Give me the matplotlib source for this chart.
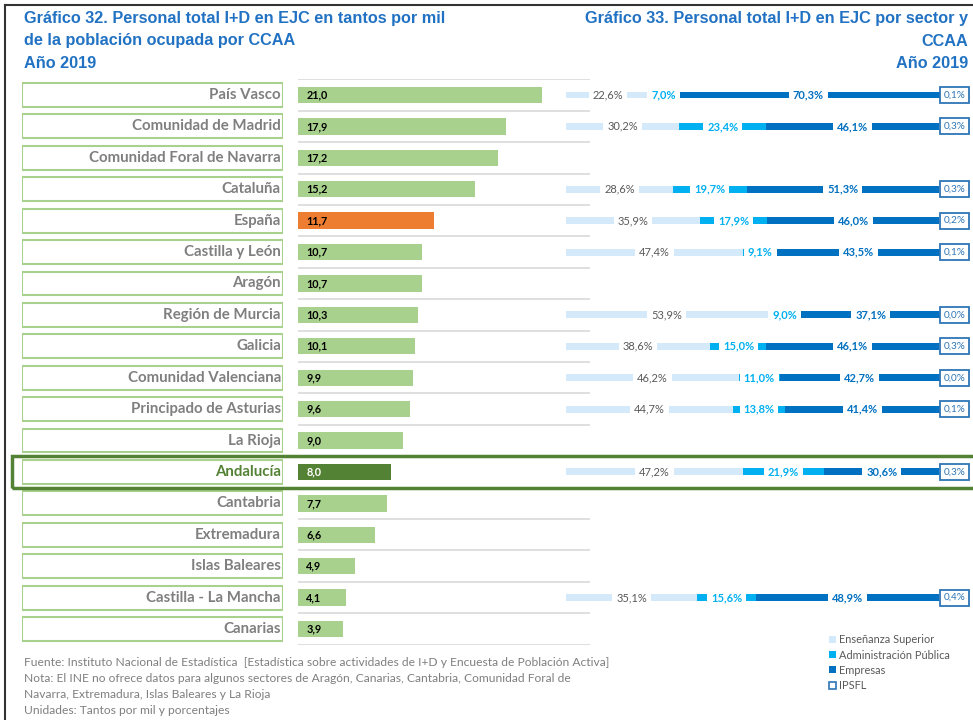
import numpy as np
import matplotlib
matplotlib.use("Agg")
import matplotlib.pyplot as plt
from matplotlib.patches import Rectangle, Patch
from matplotlib.lines import Line2D

# ---------------- data ----------------
regions = ["País Vasco", "Comunidad de Madrid", "Comunidad Foral de Navarra", "Cataluña",
           "España", "Castilla y León", "Aragón", "Región de Murcia", "Galicia",
           "Comunidad Valenciana", "Principado de Asturias", "La Rioja", "Andalucía",
           "Cantabria", "Extremadura", "Islas Baleares", "Castilla - La Mancha", "Canarias"]
per_mil = [21.0, 17.9, 17.2, 15.2, 11.7, 10.7, 10.7, 10.3, 10.1, 9.9, 9.6, 9.0, 8.0,
           7.7, 6.6, 4.9, 4.1, 3.9]
nan = np.nan
ens_sup = [22.6, 30.2, nan, 28.6, 35.9, 47.4, nan, 53.9, 38.6, 46.2, 44.7, nan, 47.2,
           nan, nan, nan, 35.1, nan]
adm_pub = [7.0, 23.4, nan, 19.7, 17.9, 9.1, nan, 9.0, 15.0, 11.0, 13.8, nan, 21.9,
           nan, nan, nan, 15.6, nan]
empresas = [70.3, 46.1, nan, 51.3, 46.0, 43.5, nan, 37.1, 46.1, 42.7, 41.4, nan, 30.6,
            nan, nan, nan, 48.9, nan]
ipsfl = [0.1, 0.3, nan, 0.3, 0.2, 0.1, nan, 0.0, 0.3, 0.0, 0.1, nan, 0.3,
         nan, nan, nan, 0.4, nan]
sector_names = ["Enseñanza Superior", "Administración Pública", "Empresas", "IPSFL"]

title_left = ["Gráfico 32. Personal total I+D en EJC en tantos por mil",
              "de la población ocupada por CCAA", "Año 2019"]
title_right = ["Gráfico 33. Personal total I+D en EJC por sector y", "CCAA", "Año 2019"]
notes = ["Fuente: Instituto Nacional de Estadística  [Estadística sobre actividades de I+D y Encuesta de Población Activa]",
         "Nota: El INE no ofrece datos para algunos sectores de Aragón, Canarias, Cantabria, Comunidad Foral de",
         "Navarra, Extremadura, Islas Baleares y La Rioja",
         "Unidades: Tantos por mil y porcentajes"]

# ---------------- style ----------------
C_GREEN = "#A9D18E"
C_DKGREEN = "#548235"
C_ORANGE = "#ED7D31"
C_LIGHT = "#D4EAFA"
C_MED = "#00B0F0"
C_DARK = "#0070C0"
C_BOX = "#2E75B6"
C_TITLE = "#2272C3"
C_GRAY = "#7F7F7F"
C_GRID = "#D9D9D9"
SANS = ["Lato", "DejaVu Sans"]
TITLEF = ["Liberation Sans", "DejaVu Sans"]

W, H = 973, 720
fig = plt.figure(figsize=(W / 100, H / 100), dpi=100)
fig.patch.set_facecolor("white")


def rect(x0, x1, y0, y1):
    return [x0 / W, 1 - y1 / H, (x1 - x0) / W, (y1 - y0) / H]


Y0, Y1 = 79.3, 644.7
n = len(regions)
y = np.arange(n)

# ---- label boxes ----
axl = fig.add_axes(rect(22, 283, Y0, Y1))
axl.barh(y, [1] * n, height=0.76, color="white", edgecolor=C_GREEN, linewidth=1.5)
for i, r in enumerate(regions):
    axl.text(0.992, i, r, ha="right", va="center", fontsize=10.8, fontweight="bold",
             family=SANS, color=C_DKGREEN if r == "Andalucía" else C_GRAY)
axl.set_xlim(0, 1)
axl.set_ylim(n - 0.5, -0.5)
axl.axis("off")

# ---- per-mil bars ----
axb = fig.add_axes(rect(298, 590, Y0, Y1))
cols = []
for r in regions:
    if r == "España":
        cols.append(C_ORANGE)
    elif r == "Andalucía":
        cols.append(C_DKGREEN)
    else:
        cols.append(C_GREEN)
axb.hlines(np.arange(-0.5, n, 1.0), 0, 1, transform=axb.get_yaxis_transform(),
           color=C_GRID, linewidth=1.2, zorder=0)
axb.barh(y, per_mil, height=0.52, color=cols, zorder=2)
for i, v in enumerate(per_mil):
    axb.text(0.7, i, f"{v:.1f}".replace(".", ","), ha="left", va="center",
             fontsize=7.8, fontweight="bold", family=SANS,
             color="white" if regions[i] == "Andalucía" else "black", zorder=3)
axb.set_xlim(0, (590 - 298) / 244 * 21.0)
axb.set_ylim(n - 0.5, -0.5)
axb.axis("off")

# ---- sector stacked bars ----
axr = fig.add_axes(rect(566, 969, Y0, Y1))
xmax = 100 * (969 - 566) / 374
e = np.array(ens_sup)
a = np.array(adm_pub)
m = np.array(empresas)
ok = ~np.isnan(e)
bh = 0.22
axr.barh(y[ok], e[ok], height=bh, color=C_LIGHT, zorder=1)
axr.barh(y[ok], a[ok], left=e[ok], height=bh, color=C_MED, zorder=1)
axr.barh(y[ok], m[ok], left=e[ok] + a[ok], height=bh, color=C_DARK, zorder=1)


def fmt(v):
    return f"{v:.1f}%".replace(".", ",")


bb = dict(boxstyle="square,pad=0.35", facecolor="white", edgecolor="none")
for i in y[ok]:
    axr.text(e[i] / 2, i, fmt(e[i]), ha="center", va="center", fontsize=8,
             family=SANS, color="#595959", bbox=bb, zorder=3)
    axr.text(e[i] + a[i] / 2, i, fmt(a[i]), ha="center", va="center", fontsize=8,
             family=SANS, fontweight="bold", color=C_MED, bbox=bb, zorder=3)
    axr.text(e[i] + a[i] + m[i] / 2, i, fmt(m[i]), ha="center", va="center",
             fontsize=8, family=SANS, fontweight="bold", color=C_DARK, bbox=bb, zorder=3)
    axr.text(103.9, i, fmt(ipsfl[i]), ha="center", va="center", fontsize=7.2,
             family=SANS, color=C_BOX, zorder=4,
             bbox=dict(boxstyle="square,pad=0.35", facecolor="white",
                       edgecolor=C_BOX, linewidth=1.3))
axr.set_xlim(0, xmax)
axr.set_ylim(n - 0.5, -0.5)
axr.axis("off")

# ---- Andalucía highlight ----
ia = regions.index("Andalucía")
yc = Y0 + (ia + 0.5) * (Y1 - Y0) / n
fig.add_artist(Rectangle((12 / W, 1 - (yc + 16) / H), (W + 5 - 12) / W, 32 / H,
                         transform=fig.transFigure, fill=False, edgecolor=C_DKGREEN,
                         linewidth=2.5, clip_on=False))

# ---- frame lines ----
fig.add_artist(Line2D([5 / W, 1], [1 - 5 / H] * 2, color="#333333", linewidth=1.5))
fig.add_artist(Line2D([5 / W] * 2, [0, 1 - 5 / H], color="#333333", linewidth=1.5))

# ---- titles ----
for t, yy in zip(title_left, [19, 41, 63]):
    fig.text(24 / W, 1 - yy / H, t, ha="left", va="center", fontsize=11.7,
             fontweight="bold", family=TITLEF, color=C_TITLE)
for t, yy in zip(title_right, [19, 41, 63]):
    fig.text(968 / W, 1 - yy / H, t, ha="right", va="center", fontsize=11.7,
             fontweight="bold", family=TITLEF, color=C_TITLE)

# ---- notes ----
for t, yy in zip(notes, [663, 679, 695, 711]):
    fig.text(24 / W, 1 - yy / H, t, ha="left", va="center", fontsize=8.65,
             family=SANS, color=C_GRAY)

# ---- legend ----
handles = [Patch(facecolor=C_LIGHT, edgecolor="none"),
           Patch(facecolor=C_MED, edgecolor="none"),
           Patch(facecolor=C_DARK, edgecolor="none"),
           Patch(facecolor="white", edgecolor=C_BOX, linewidth=1.2)]
leg = fig.legend(handles, sector_names, loc="upper left",
                 bbox_to_anchor=(824 / W, 1 - 629 / H), frameon=False,
                 handlelength=0.6, handleheight=0.6, handletextpad=0.3,
                 labelspacing=0.38, borderpad=0, prop=dict(family=SANS, size=7.9))
for t in leg.get_texts():
    t.set_color("#595959")

fig.savefig("out.png", dpi=100, facecolor="white")
